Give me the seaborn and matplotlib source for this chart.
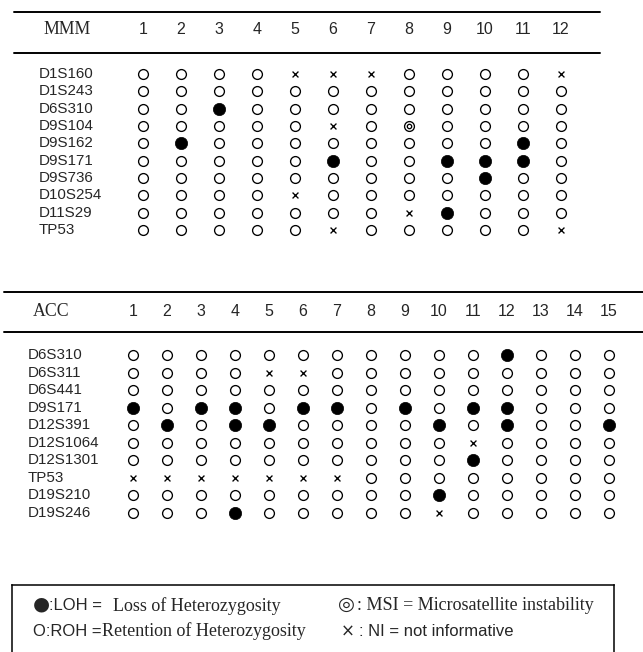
import matplotlib
matplotlib.use("Agg")
import matplotlib.pyplot as plt
import seaborn as sns
import pandas as pd

sns.set_theme(style="white")
plt.rcParams['font.family'] = ['Liberation Sans', 'DejaVu Sans']

# ---------------- data ----------------
# codes: O = ROH (retention), L = LOH (loss), M = MSI, X = NI (not informative)
mmm_title = "MMM"
mmm_cases = [str(i) for i in range(1, 13)]
mmm_markers = ["D1S160", "D1S243", "D6S310", "D9S104", "D9S162",
               "D9S171", "D9S736", "D10S254", "D11S29", "TP53"]
mmm_status = [
    "OOOOXXXOOOOX",
    "OOOOOOOOOOOO",
    "OOLOOOOOOOOO",
    "OOOOOXOMOOOO",
    "OLOOOOOOOOLO",
    "OOOOOLOOLLLO",
    "OOOOOOOOOLOO",
    "OOOOXOOOOOOO",
    "OOOOOOOXLOOO",
    "OOOOOXOOOOOX",
]

acc_title = "ACC"
acc_cases = [str(i) for i in range(1, 16)]
acc_markers = ["D6S310", "D6S311", "D6S441", "D9S171", "D12S391",
               "D12S1064", "D12S1301", "TP53", "D19S210", "D19S246"]
acc_status = [
    "OOOOOOOOOOOLOOO",
    "OOOOXXOOOOOOOOO",
    "OOOOOOOOOOOOOOO",
    "LOLLOLLOLOLLOOO",
    "OLOLLOOOOLOLOOL",
    "OOOOOOOOOOXOOOO",
    "OOOOOOOOOOLOOOO",
    "XXXXXXXOOOOOOOO",
    "OOOOOOOOOLOOOOO",
    "OOOLOOOOOXOOOOO",
]


def to_frame(markers, status):
    rows = []
    for r, (m, s) in enumerate(zip(markers, status)):
        for c, code in enumerate(s):
            rows.append({"marker": m, "row": r, "case": c + 1, "code": code})
    return pd.DataFrame(rows)


W, H = 643, 652
fig = plt.figure(figsize=(W / 100, H / 100), dpi=100)

SERIF = ['Liberation Serif', 'DejaVu Serif']
NARROW = ['Liberation Sans Narrow', 'Liberation Sans', 'DejaVu Sans']


def draw_table(title, cases, markers, status, ytop, ybot, p1, dx, y0, dy,
               line_y, line_x, header_y, label_x, title_x):
    ax = fig.add_axes([0, 1 - ybot / H, 1, (ybot - ytop) / H])
    df = to_frame(markers, status)
    # ROH open circles
    sns.scatterplot(data=df[df.code == "O"], x="case", y="row", ax=ax,
                    marker="o", s=50, color="white", edgecolor="black",
                    linewidth=0.95, legend=False, zorder=3)
    # LOH filled circles
    sns.scatterplot(data=df[df.code == "L"], x="case", y="row", ax=ax,
                    marker="o", s=78, color="black", edgecolor="black",
                    linewidth=0.5, legend=False, zorder=3)
    # NI crosses
    sns.scatterplot(data=df[df.code == "X"], x="case", y="row", ax=ax,
                    marker="x", s=18, color="black", linewidth=0.95,
                    legend=False, zorder=3)
    # MSI double circles
    msi = df[df.code == "M"]
    sns.scatterplot(data=msi, x="case", y="row", ax=ax, marker="o", s=50,
                    color="white", edgecolor="black", linewidth=0.95,
                    legend=False, zorder=3)
    sns.scatterplot(data=msi, x="case", y="row", ax=ax, marker="o", s=10,
                    color="white", edgecolor="black", linewidth=0.95,
                    legend=False, zorder=4)

    ax.set_xlim(1 - p1 / dx, 1 + (W - p1) / dx)
    ax.set_ylim((ybot - y0) / dy, (ytop - y0) / dy)
    ax.axis("off")

    yt = ax.get_yaxis_transform()
    # horizontal rules
    for ly in line_y:
        ax.plot([line_x[0] / W, line_x[1] / W], [(ly - y0) / dy] * 2,
                transform=yt, color="black", lw=1.4, clip_on=False)
    # header
    ax.text(title_x / W, (header_y - y0) / dy, title, transform=yt,
            ha="left", va="center", fontsize=12.8, family=SERIF)
    for c in cases:
        ax.text(int(c), (header_y - y0) / dy, c, ha="center", va="center",
                fontsize=11.5, family=NARROW)
    for r, m in enumerate(markers):
        ax.text(label_x / W, r, m, transform=yt, ha="left", va="center",
                fontsize=10.9)
    return ax


draw_table(mmm_title, mmm_cases, mmm_markers, mmm_status,
           ytop=0, ybot=270, p1=143, dx=38, y0=74, dy=17.33,
           line_y=[12, 53], line_x=(14, 600), header_y=30,
           label_x=39, title_x=43)
draw_table(acc_title, acc_cases, acc_markers, acc_status,
           ytop=278, ybot=545, p1=133, dx=34, y0=355, dy=17.55,
           line_y=[292, 332], line_x=(4, 643), header_y=312,
           label_x=28, title_x=33)

# ---------------- legend box ----------------
lx0, lx1, ly0 = 12, 614, 585
lax = fig.add_axes([lx0 / W, 0, (lx1 - lx0) / W, (H - ly0) / H])
lax.set_xlim(lx0, lx1)
lax.set_ylim(H, ly0)
lax.set_xticks([]); lax.set_yticks([])
for sp in ["left", "right", "top"]:
    lax.spines[sp].set_visible(True)
    lax.spines[sp].set_color("black")
    lax.spines[sp].set_linewidth(1.1)
lax.spines["bottom"].set_visible(False)
lax.set_facecolor("none")

r1, r2 = 606, 631
fs = 12.0
fss = 13.0
lax.text(33, r1 - 2, "\u25CF", ha="left", va="center", fontsize=14,
         family=['DejaVu Sans'])
lax.text(49, r1, ":LOH = ", ha="left", va="center", fontsize=fs)
lax.text(113, r1, "Loss of Heterozygosity", ha="left", va="center",
         fontsize=fss, family=SERIF)
lax.text(33, r2, "O:ROH =", ha="left", va="center", fontsize=fs)
lax.text(102, r2, "Retention of Heterozygosity", ha="left", va="center",
         fontsize=fss, family=SERIF)
lax.text(338, r1 - 2, "\u25CE", ha="left", va="center", fontsize=14,
         family=['DejaVu Sans'])
lax.text(357, r1, ": MSI = Microsatellite instability", ha="left",
         va="center", fontsize=fss, family=SERIF)
lax.text(341, r2 + 1, "\u00D7", ha="left", va="center", fontsize=12,
         family=['DejaVu Sans'])
lax.text(359, r2, ": NI = not informative", ha="left", va="center",
         fontsize=fs)

fig.savefig("out.png", dpi=100)
